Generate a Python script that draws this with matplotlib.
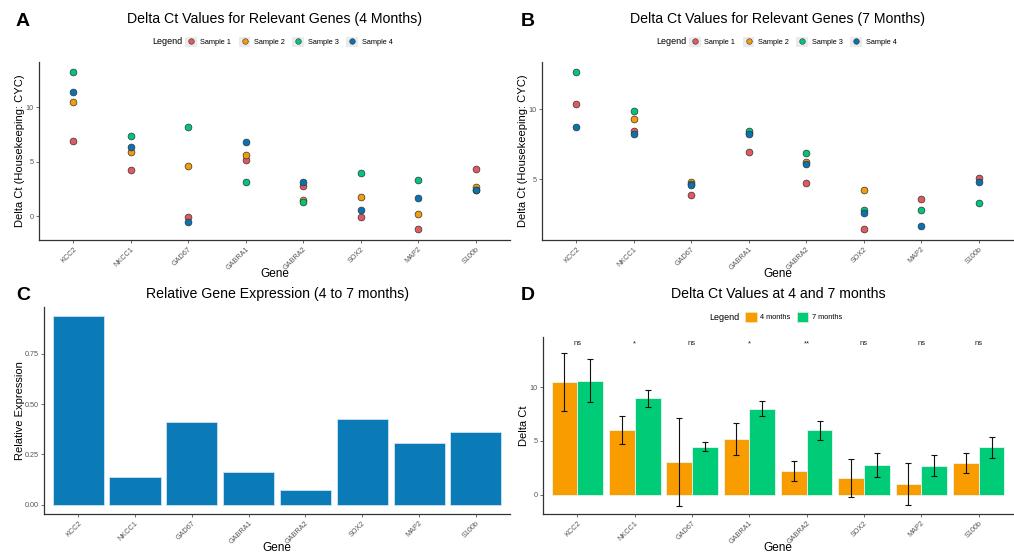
import numpy as np
import matplotlib
matplotlib.use("Agg")
import matplotlib.pyplot as plt
from matplotlib.lines import Line2D
from matplotlib.patches import Rectangle

plt.rcParams['font.family'] = ['Liberation Sans', 'DejaVu Sans']

genes = ['KCC2', 'NKCC1', 'GAD67', 'GABRA1', 'GABRA2', 'SOX2', 'MAP2', 'S100b']
samples = ['Sample 1', 'Sample 2', 'Sample 3', 'Sample 4']

# delta Ct, 4 months (rows = samples)
dct_4m_s1 = [6.87, 4.29, -0.06, 5.15, 2.82, -0.09, -1.20, 4.36]
dct_4m_s2 = [10.49, 5.86, 4.60, 5.61, 1.50, 1.75, 0.18, 2.67]
dct_4m_s3 = [13.28, 7.39, 8.16, 3.19, 1.32, 3.93, 3.37, 2.40]
dct_4m_s4 = [11.38, 6.38, -0.49, 6.81, 3.16, 0.58, 1.72, 2.39]

# delta Ct, 7 months (nan = missing)
dct_7m_s1 = [10.38, 8.45, 3.86, 6.95, 4.76, 1.45, 3.62, 5.12]
dct_7m_s2 = [np.nan, 9.31, 4.81, 8.33, 6.26, 4.24, np.nan, np.nan]
dct_7m_s3 = [12.67, 9.88, 4.65, 8.45, 6.88, 2.79, 2.79, 3.29]
dct_7m_s4 = [8.74, 8.21, 4.60, 8.21, 6.07, 2.62, 1.69, 4.83]

rel_expr = [0.937, 0.137, 0.411, 0.161, 0.073, 0.424, 0.308, 0.359]

signif = ['ns', '*', 'ns', '*', '**', 'ns', 'ns', 'ns']

sample_colors = ['#E05A5F', '#F39C0C', '#00C57A', '#0873B2']
month_colors = ['#F89C00', '#00CC78']
bar_blue = '#0A7BB6'

W, H = 1014, 557
fig = plt.figure(figsize=(W / 100, H / 100), dpi=100)


def px_axes(left, top, right, bottom):
    return fig.add_axes([left / W, 1 - bottom / H, (right - left) / W, (bottom - top) / H])


def style(ax, ylabel, xl_off, yl_off):
    for s in ['top', 'right']:
        ax.spines[s].set_visible(False)
    for s in ['left', 'bottom']:
        ax.spines[s].set_color('#333333')
        ax.spines[s].set_linewidth(0.9)
    ax.tick_params(axis='both', length=2.5, width=0.6, color='#555555',
                   labelsize=5.2, labelcolor='#555555', pad=1.5)
    ax.set_xticks(range(1, 9))
    ax.set_xticklabels(genes, rotation=45, ha='right', rotation_mode='anchor')
    ax.set_xlim(0.4, 8.6)
    ax.set_xlabel('Gene', fontsize=8.5)
    ax.set_ylabel(ylabel, fontsize=8)
    bb = ax.get_position()
    wpx, hpx = bb.width * W, bb.height * H
    ax.xaxis.set_label_coords(0.5, -xl_off / hpx)
    ax.yaxis.set_label_coords(-yl_off / wpx, 0.5)


def legend_row(ax, x_text, y, handles, labels, bbox, colsp):
    fig.text(x_text / W, 1 - y / H, 'Legend', fontsize=6.5, va='center', ha='left')
    ax.legend(handles, labels, ncol=len(labels), loc='center left',
              bbox_to_anchor=(bbox / W, 1 - y / H), bbox_transform=fig.transFigure,
              frameon=False, fontsize=5.3, handlelength=1.6, handleheight=1.6,
              handletextpad=0.5, columnspacing=colsp, borderpad=0, borderaxespad=0)


def scatter_panel(ax, data, title, letter, lx, ylim, yticks, legx):
    x = np.arange(1, 9)
    for vals, col in zip(data, sample_colors):
        ax.scatter(x, vals, s=24, color=col, edgecolor='#333333', linewidth=0.5, zorder=3)
    style(ax, 'Delta Ct (Housekeeping: CYC)', 28, 14)
    ax.set_ylim(*ylim)
    ax.set_yticks(yticks)
    handles = [(Rectangle((0, 0), 1, 1, facecolor='#EBEBEB', edgecolor='none'),
                Line2D([], [], marker='o', ls='', color=c, markeredgecolor='#333333',
                       markeredgewidth=0.4, markersize=4)) for c in sample_colors]
    legend_row(ax, legx, 42, handles, samples, legx + 33, 1.0)
    fig.text(lx / W, 1 - 21 / H, letter, fontsize=14, fontweight='bold', va='center')
    cx = (ax.get_position().x0 + ax.get_position().x1) / 2
    fig.text(cx, 1 - 19 / H, title, fontsize=10.2, ha='center', va='center')


# A
axA = px_axes(39, 62, 510, 240)
scatter_panel(axA, [dct_4m_s1, dct_4m_s2, dct_4m_s3, dct_4m_s4],
              'Delta Ct Values for Relevant Genes (4 Months)', 'A', 16,
              (-2.18, 14.17), [0, 5, 10], 152)

# B
axB = px_axes(542, 62, 1013, 240)
scatter_panel(axB, [dct_7m_s1, dct_7m_s2, dct_7m_s3, dct_7m_s4],
              'Delta Ct Values for Relevant Genes (7 Months)', 'B', 521,
              (0.67, 13.36), [5, 10], 656)

# C
axC = px_axes(44, 307, 510, 514)
axC.bar(np.arange(1, 9), rel_expr, width=0.9, color=bar_blue,
        edgecolor='#CFE3F0', linewidth=0.6, zorder=2)
style(axC, 'Relative Expression', 28, 19)
axC.set_ylim(-0.047, 0.984)
axC.set_yticks([0, 0.25, 0.5, 0.75])
axC.set_yticklabels(['0.00', '0.25', '0.50', '0.75'])
fig.text(16 / W, 1 - 295 / H, 'C', fontsize=14, fontweight='bold', va='center')
fig.text(277 / W, 1 - 294 / H, 'Relative Gene Expression (4 to 7 months)',
         fontsize=10.2, ha='center', va='center')

# D  (mean +/- sd of the per-sample values)
axD = px_axes(543, 337, 1013, 514)
m4 = np.array([dct_4m_s1, dct_4m_s2, dct_4m_s3, dct_4m_s4])
m7 = np.array([dct_7m_s1, dct_7m_s2, dct_7m_s3, dct_7m_s4])
x = np.arange(1, 9)
for k, (arr, col) in enumerate(zip([m4, m7], month_colors)):
    mean = np.nanmean(arr, axis=0)
    sd = np.nanstd(arr, axis=0, ddof=1)
    xs = x + (k - 0.5) * 0.45
    axD.bar(xs, mean, width=0.45, color=col, edgecolor='#E9F5EE', linewidth=0.6, zorder=2)
    axD.errorbar(xs, mean, yerr=sd, fmt='none', ecolor='#111111', elinewidth=0.8,
                 capsize=2.5, capthick=0.8, zorder=3)
for xi, s in zip(x, signif):
    axD.text(xi, 14.0, s, fontsize=5.5, ha='center', va='center', color='#222222')
style(axD, 'Delta Ct', 28, 14)
axD.set_ylim(-1.76, 14.63)
axD.set_yticks([0, 5, 10])
handlesD = [Rectangle((0, 0), 1, 1, facecolor=c, edgecolor='#F3E6CC', linewidth=0.5)
            for c in month_colors]
legend_row(axD, 709, 317, handlesD, ['4 months', '7 months'], 745, 0.8)
fig.text(521 / W, 1 - 295 / H, 'D', fontsize=14, fontweight='bold', va='center')
fig.text(778 / W, 1 - 294 / H, 'Delta Ct Values at 4 and 7 months',
         fontsize=10.2, ha='center', va='center')

fig.savefig('out.png', dpi=100)
